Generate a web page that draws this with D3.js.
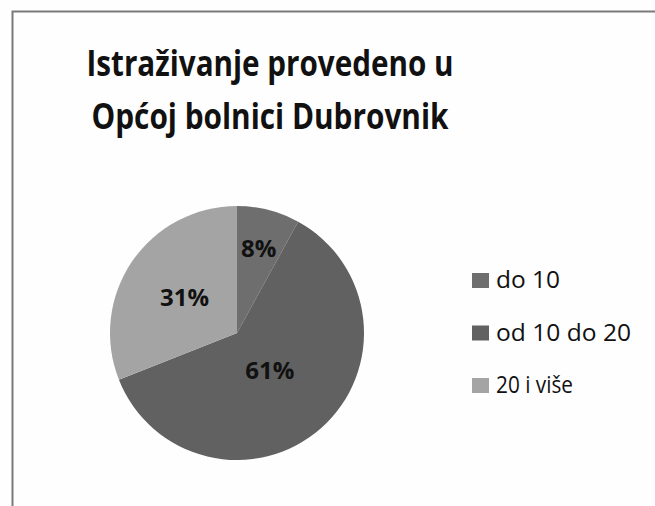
<!DOCTYPE html>
<html>
<head>
<meta charset="utf-8">
<script src="https://cdn.jsdelivr.net/npm/d3@7"></script>
<style>
  body { margin: 0; background: #fff; }
  text { font-family: "Open Sans", "DejaVu Sans", sans-serif; }
</style>
</head>
<body>
<div id="chart"></div>
<script>
// chart data
var categories = ["do 10", "od 10 do 20", "20 i više"];
var values = [8, 61, 31];
var colors = ["#6e6e6e", "#616161", "#a4a4a4"];
var titleLines = ["Istraživanje provedeno u", "Općoj bolnici Dubrovnik"];

var width = 655, height = 506;
var cx = 237, cy = 333, radius = 127;

var svg = d3.select("#chart").append("svg")
    .attr("width", width)
    .attr("height", height);

svg.append("rect").attr("width", width).attr("height", height).attr("fill", "#fefefe");

// frame (only top and left edges visible in crop)
svg.append("path")
    .attr("d", "M12.5," + height + "V11.5H" + width)
    .attr("fill", "none")
    .attr("stroke", "#7a7a7a")
    .attr("stroke-width", 2);

// title
svg.selectAll("text.title")
    .data(titleLines)
  .enter().append("text")
    .attr("class", "title")
    .attr("x", 270)
    .attr("y", function (d, i){ return 76 + i * 53; })
    .attr("text-anchor", "middle")
    .attr("font-size", 36)
    .attr("font-weight", "bold")
    .attr("fill", "#111")
    .attr("textLength", function (d, i){ return i == 0 ? 367 : 357; })
    .attr("lengthAdjust", "spacingAndGlyphs")
    .text(function (d){ return d; });

var pie = d3.pie().sort(null).value(function (d){ return d; });
var arc = d3.arc().innerRadius(0).outerRadius(radius);
var arcs = pie(values);

var g = svg.append("g").attr("transform", "translate(" + cx + "," + cy + ")");

g.selectAll("path.slice")
    .data(arcs)
  .enter().append("path")
    .attr("class", "slice")
    .attr("d", arc)
    .attr("fill", function (d, i){ return colors[i]; });

// label positions differ per slice, so use a radius factor for each
var labelRadius = [0.69, 0.39, 0.5];
g.selectAll("text.label")
    .data(arcs)
  .enter().append("text")
    .attr("class", "label")
    .attr("transform", function (d, i){
      var a = (d.startAngle + d.endAngle) / 2;
      var r = radius * labelRadius[i];
      return "translate(" + (Math.sin(a) * r) + "," + (-Math.cos(a) * r) + ")";
    })
    .attr("dy", "0.36em")
    .attr("text-anchor", "middle")
    .attr("font-size", 24)
    .attr("font-weight", "bold")
    .attr("fill", "#111")
    .text(function (d){ return d.value + "%"; });

// legend
var legend = svg.append("g").attr("transform", "translate(472,273)");
var item = legend.selectAll("g")
    .data(categories)
  .enter().append("g")
    .attr("transform", function (d, i){ return "translate(0," + i * 52.5 + ")"; });

item.append("rect")
    .attr("width", 17)
    .attr("height", 15)
    .attr("fill", function (d, i){ return colors[i]; });

item.append("text")
    .attr("x", 24)
    .attr("y", 15)
    .attr("font-size", 23)
    .attr("fill", "#111")
    .attr("textLength", function (d, i){ return [64, 135, 77][i]; })
    .attr("lengthAdjust", "spacingAndGlyphs")
    .text(function (d){ return d; });
</script>
</body>
</html>
